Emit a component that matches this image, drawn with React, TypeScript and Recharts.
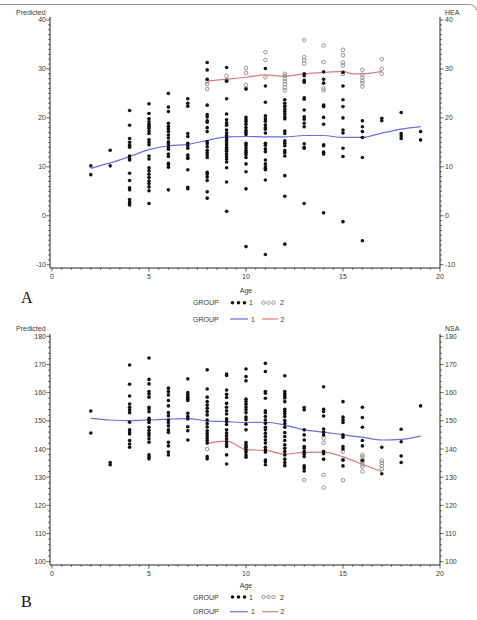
import React from 'react';
import { ComposedChart, Scatter, Line, XAxis, YAxis } from 'recharts';

const FONT = '"Liberation Sans", Arial, Helvetica, sans-serif';
const TEXT = '#3a3a3a';
const AXIS = '#222';
const BLUE = '#6e6ee0';
const RED = '#e07a7a';

// ---- tick labels ----
const ageTicks = [0, 5, 10, 15, 20];
const heaTicks = [-10, 0, 10, 20, 30, 40];
const nsaTicks = [100, 110, 120, 130, 140, 150, 160, 170, 180];

// ---- Panel A (HEA): observed points per age ----
const heaGroup1: [number, number[]][] = [
  [2, [10.2, 8.4]],
  [3, [13.4, 10.2]],
  [4, [21.5, 18.5, 15.8, 15.0, 14.4, 14.0, 12.2, 11.7, 11.4, 8.7, 7.2, 5.7, 5.3, 3.3, 2.8, 2.5, 2.2]],
  [5, [22.9, 20.9, 19.8, 19.2, 18.7, 18.3, 17.9, 17.3, 16.8, 15.5, 15.0, 14.5, 12.2, 11.6, 9.8, 9.2, 8.5, 7.8, 7.1, 6.6, 5.9, 5.1, 2.5]],
  [6, [25.0, 22.2, 21.3, 18.9, 18.3, 17.8, 17.2, 16.5, 15.9, 15.1, 14.7, 14.1, 13.6, 12.6, 12.1, 10.7, 10.4, 9.9, 5.3]],
  [7, [23.9, 23.0, 22.4, 16.8, 16.2, 14.8, 14.3, 13.8, 12.4, 11.9, 11.7, 9.4, 5.8, 5.5]],
  [8, [31.3, 29.8, 27.9, 22.6, 20.7, 20.2, 19.4, 19.1, 18.0, 17.2, 15.1, 14.7, 14.1, 13.4, 12.9, 12.4, 11.9, 8.9, 8.5, 7.9, 7.2, 4.9, 3.6]],
  [9, [30.3, 27.5, 23.9, 20.8, 19.6, 19.0, 18.5, 17.5, 16.9, 16.4, 15.9, 15.4, 14.9, 14.5, 14.0, 13.6, 13.2, 12.6, 12.1, 11.6, 11.0, 9.8, 6.9, 0.9]],
  [10, [25.9, 20.1, 19.6, 19.2, 18.7, 18.0, 17.4, 17.0, 16.6, 14.8, 14.4, 13.9, 13.4, 13.0, 12.5, 11.9, 10.6, 9.0, 5.5, -6.3]],
  [11, [30.1, 26.5, 23.2, 20.4, 19.8, 19.3, 18.6, 18.0, 17.7, 16.9, 14.8, 14.4, 13.7, 13.1, 11.4, 10.6, 10.0, 9.7, 9.4, 7.3, -7.9]],
  [12, [23.7, 23.0, 22.4, 21.8, 21.3, 20.8, 20.2, 19.8, 17.3, 16.8, 15.3, 14.8, 14.3, 13.3, 12.9, 12.2, 8.2, 4.0, -5.8]],
  [13, [29.0, 28.6, 27.7, 27.3, 24.1, 23.8, 21.6, 20.2, 19.7, 18.9, 18.2, 14.7, 14.0, 13.8, 2.5]],
  [14, [29.4, 27.9, 27.1, 22.6, 22.3, 20.1, 18.7, 14.5, 14.3, 13.0, 12.6, 0.6]],
  [15, [29.3, 26.5, 23.7, 22.3, 20.0, 17.5, 16.9, 13.8, 12.1, -1.2]],
  [16, [19.4, 18.2, 17.2, 16.0, 11.9, -5.1]],
  [17, [19.9, 19.4]],
  [18, [21.1, 16.8, 16.3, 15.8]],
  [19, [17.2, 15.5]],
];
const heaGroup2: [number, number[]][] = [
  [8, [27.4, 26.9, 25.9]],
  [9, [28.6, 27.7]],
  [10, [30.2, 29.2, 26.7, 26.0]],
  [11, [33.4, 31.8, 28.3]],
  [12, [29.0, 28.6, 28.0, 27.5, 26.9, 26.2, 25.6]],
  [13, [35.9, 32.4, 31.8, 31.1]],
  [14, [34.8, 31.4, 26.0, 25.6]],
  [15, [33.9, 32.8, 31.3, 30.7, 29.0]],
  [16, [29.8, 28.8, 28.2, 27.6, 27.1, 26.4]],
  [17, [32.0, 30.0, 29.0]],
];
// smoothed predicted curves, panel A
const heaFitAges1 = [2, 3, 4, 5, 6, 7, 8, 9, 10, 11, 12, 13, 14, 15, 16, 17, 18, 19];
const heaFit1 = [9.7, 10.8, 12.1, 13.5, 14.3, 14.6, 15.4, 16.1, 16.2, 16.1, 16.1, 16.4, 16.4, 16.0, 16.0, 16.9, 17.7, 18.2];
const heaFitAges2 = [8, 9, 10, 11, 12, 13, 14, 15, 15.5, 16, 17];
const heaFit2 = [27.5, 27.9, 28.3, 28.8, 28.5, 29.0, 29.3, 29.5, 29.0, 29.0, 29.5];

// ---- Panel B (NSA): observed points per age ----
const nsaGroup1: [number, number[]][] = [
  [2, [153.5, 145.7]],
  [3, [135.2, 134.4]],
  [4, [169.8, 163.0, 158.8, 156.0, 154.8, 153.9, 152.9, 149.5, 146.8, 146.0, 145.3, 143.0, 141.8, 140.6]],
  [5, [172.3, 164.7, 163.1, 160.4, 159.5, 158.4, 154.8, 154.2, 153.2, 150.9, 150.2, 149.4, 147.7, 146.6, 145.6, 144.8, 143.6, 142.4, 137.9, 137.2, 136.5]],
  [6, [161.6, 160.4, 159.2, 157.2, 155.3, 152.9, 151.8, 150.3, 149.4, 148.2, 146.8, 145.9, 142.4, 141.1, 138.9, 137.9]],
  [7, [164.9, 160.0, 159.2, 158.4, 157.7, 157.2, 152.7, 151.5, 150.7, 147.9, 146.5, 143.2]],
  [8, [168.1, 161.3, 158.4, 156.8, 155.6, 154.5, 153.3, 152.1, 150.3, 149.0, 147.8, 146.5, 145.6, 144.7, 143.8, 143.0, 142.1, 137.3, 136.5]],
  [9, [166.6, 166.1, 160.9, 159.4, 158.3, 156.2, 154.8, 153.6, 152.4, 150.7, 149.8, 148.7, 146.8, 145.7, 144.7, 143.6, 142.6, 141.6, 140.9, 137.9, 134.7]],
  [10, [168.4, 165.7, 164.2, 157.7, 156.8, 155.9, 154.9, 154.0, 152.9, 151.3, 150.4, 148.8, 146.8, 142.3, 141.5, 140.6, 139.8, 138.9, 137.9, 137.1]],
  [11, [170.4, 167.5, 160.4, 159.8, 158.0, 153.6, 152.9, 151.5, 150.3, 149.1, 147.7, 146.8, 145.6, 144.4, 143.2, 142.1, 140.6, 139.7, 138.9, 136.1, 135.5, 134.4]],
  [12, [166.0, 160.4, 159.6, 158.9, 158.1, 156.8, 154.1, 153.3, 152.5, 151.5, 150.1, 149.0, 147.7, 145.8, 144.4, 143.0, 141.5, 140.3, 139.1, 137.9, 136.4, 135.2, 134.1]],
  [13, [154.7, 153.9, 146.8, 145.0, 143.2, 140.9, 140.3, 139.1, 138.3, 137.3, 134.0, 133.2, 132.2]],
  [14, [162.1, 154.1, 153.3, 151.7, 147.1, 146.0, 145.0, 139.1, 138.3, 136.4]],
  [15, [156.8, 151.3, 150.3, 149.4, 145.0, 144.2, 140.9, 140.0, 136.1, 134.0]],
  [16, [154.8, 151.2, 147.7, 143.0, 141.1, 135.9]],
  [17, [140.6, 131.2]],
  [18, [147.0, 142.6, 137.5, 135.2]],
  [19, [155.3]],
];
const nsaGroup2: [number, number[]][] = [
  [8, [140.0]],
  [10, [141.0, 139.5]],
  [13, [138.5, 129.0]],
  [14, [143.8, 142.2, 130.8, 126.3]],
  [15, [139.1, 136.1, 128.9]],
  [16, [137.9, 137.2, 136.2, 135.5, 134.5, 133.7, 132.0]],
  [17, [135.9, 135.0, 134.0, 132.9]],
];
const nsaFitAges1 = [2, 3, 4, 5, 6, 7, 8, 9, 10, 11, 12, 13, 14, 15, 16, 17, 18, 19];
const nsaFit1 = [150.9, 150.3, 150.1, 150.3, 150.6, 150.8, 150.0, 149.7, 149.4, 149.5, 148.5, 146.8, 146.0, 145.0, 144.2, 143.2, 143.4, 144.6];
const nsaFitAges2 = [8, 9, 10, 11, 12, 13, 14, 15, 16, 17];
const nsaFit2 = [142.0, 142.8, 139.8, 139.5, 138.2, 138.8, 138.9, 137.2, 134.6, 132.0];

// ---- helpers ----
const toPoints = (rows: [number, number[]][]) =>
  rows.flatMap(([x, ys]) => ys.map((y) => ({ x, y })));
const toCurve = (xs: number[], ys: number[]) => xs.map((x, i) => ({ x, y: ys[i] }));
const steps = (from: number, to: number, step: number) => {
  const out: number[] = [];
  for (let v = from; v <= to + 1e-9; v += step) out.push(Math.round(v * 100) / 100);
  return out;
};
const isMajor = (v: number, majors: number[]) => majors.some((m) => Math.abs(m - v) < 1e-6);

const FilledDot = (p: any) => <circle cx={p.cx} cy={p.cy} r={1.8} fill="#111" />;
const OpenDot = (p: any) => (
  <circle cx={p.cx} cy={p.cy} r={1.8} fill="#fff" fillOpacity={0} stroke="#8a8a8a" strokeWidth={0.9} />
);

const makeLeftTick = (majors: number[]) => (props: any) => {
  const { x, y, payload } = props;
  const v = payload.value;
  const mj = isMajor(v, majors);
  return (
    <g>
      <line x1={x} x2={x - (mj ? 3.5 : 1.8)} y1={y} y2={y} stroke={AXIS} strokeWidth={0.7} />
      {mj && (
        <text x={x - 4} y={y} dy={2.5} textAnchor="end" fontSize={7} fill={TEXT} fontFamily={FONT}>
          {v}
        </text>
      )}
    </g>
  );
};
const makeRightTick = (majors: number[]) => (props: any) => {
  const { x, y, payload } = props;
  const v = payload.value;
  const mj = isMajor(v, majors);
  return (
    <g>
      <line x1={x} x2={x + (mj ? 3.5 : 1.8)} y1={y} y2={y} stroke={AXIS} strokeWidth={0.7} />
      {mj && (
        <text x={x + 5} y={y} dy={2.5} textAnchor="start" fontSize={7} fill={TEXT} fontFamily={FONT}>
          {v}
        </text>
      )}
    </g>
  );
};
const makeBottomTick = (majors: number[]) => (props: any) => {
  const { x, y, payload } = props;
  const v = payload.value;
  const mj = isMajor(v, majors);
  return (
    <g>
      <line x1={x} x2={x} y1={y} y2={y + (mj ? 3.5 : 1.8)} stroke={AXIS} strokeWidth={0.7} />
      {mj && (
        <text x={x} y={y + 11} textAnchor="middle" fontSize={7} fill={TEXT} fontFamily={FONT}>
          {v}
        </text>
      )}
    </g>
  );
};

type PanelProps = {
  top: number;
  height: number;
  yDomain: [number, number];
  yMajors: number[];
  yMinorStep: number;
  g1: { x: number; y: number }[];
  g2: { x: number; y: number }[];
  fit1: { x: number; y: number }[];
  fit2: { x: number; y: number }[];
};

const X_DOMAIN: [number, number] = [-0.103, 20];

function Panel({ top, height, yDomain, yMajors, yMinorStep, g1, g2, fit1, fit2 }: PanelProps) {
  const yTicks = steps(yMajors[0], yMajors[yMajors.length - 1], yMinorStep);
  const xTicks = steps(0, 20, 0.5);
  return (
    <div style={{ position: 'absolute', left: 0, top }}>
      <ComposedChart width={477} height={height} margin={{ top: 17, right: 0, bottom: 0, left: 0 }}>
        <XAxis
          xAxisId="b"
          dataKey="x"
          type="number"
          domain={X_DOMAIN}
          allowDataOverflow
          ticks={xTicks}
          interval={0}
          tickSize={0}
          tickMargin={0}
          tickLine={false}
          tick={makeBottomTick(ageTicks)}
          axisLine={{ stroke: AXIS, strokeWidth: 1 }}
          height={22}
        />
        <XAxis
          xAxisId="t"
          orientation="top"
          type="number"
          domain={X_DOMAIN}
          allowDataOverflow
          tick={false}
          tickLine={false}
          axisLine={{ stroke: AXIS, strokeWidth: 1 }}
          height={0}
        />
        <YAxis
          yAxisId="l"
          dataKey="y"
          type="number"
          domain={yDomain}
          allowDataOverflow
          ticks={yTicks}
          interval={0}
          tickSize={0}
          tickMargin={0}
          tickLine={false}
          tick={makeLeftTick(yMajors)}
          axisLine={{ stroke: AXIS, strokeWidth: 1 }}
          width={50}
        />
        <YAxis
          yAxisId="r"
          orientation="right"
          type="number"
          domain={yDomain}
          allowDataOverflow
          ticks={yTicks}
          interval={0}
          tickSize={0}
          tickMargin={0}
          tickLine={false}
          tick={makeRightTick(yMajors)}
          axisLine={{ stroke: AXIS, strokeWidth: 1 }}
          width={37}
        />
        <Scatter xAxisId="b" yAxisId="l" data={g2} shape={OpenDot} isAnimationActive={false} />
        <Scatter xAxisId="b" yAxisId="l" data={g1} shape={FilledDot} isAnimationActive={false} />
        <Line
          xAxisId="b"
          yAxisId="l"
          data={fit1}
          dataKey="y"
          type="monotone"
          stroke={BLUE}
          strokeWidth={1.2}
          dot={false}
          activeDot={false}
          isAnimationActive={false}
        />
        <Line
          xAxisId="b"
          yAxisId="l"
          data={fit2}
          dataKey="y"
          type="monotone"
          stroke={RED}
          strokeWidth={1.2}
          dot={false}
          activeDot={false}
          isAnimationActive={false}
        />
      </ComposedChart>
    </div>
  );
}

function Legend({ y1, y2 }: { y1: number; y2: number }) {
  const t = { fontSize: 7, fill: TEXT, fontFamily: FONT } as const;
  return (
    <g>
      <text x={193} y={y1 + 2.5} {...t}>GROUP</text>
      {[232.5, 238.5, 244.5].map((cx) => (
        <circle key={cx} cx={cx} cy={y1} r={1.8} fill="#111" />
      ))}
      <text x={249} y={y1 + 2.5} {...t}>1</text>
      {[263.5, 268.5, 273.5].map((cx) => (
        <circle key={cx} cx={cx} cy={y1} r={1.7} fill="none" stroke="#8a8a8a" strokeWidth={0.9} />
      ))}
      <text x={280} y={y1 + 2.5} {...t}>2</text>
      <text x={193} y={y2 + 2.5} {...t}>GROUP</text>
      <line x1={230} x2={248} y1={y2} y2={y2} stroke={BLUE} strokeWidth={1.2} />
      <text x={251} y={y2 + 2.5} {...t}>1</text>
      <line x1={262} x2={278} y1={y2} y2={y2} stroke={RED} strokeWidth={1.2} />
      <text x={280.5} y={y2 + 2.5} {...t}>2</text>
    </g>
  );
}

export default function App() {
  const t = { fontSize: 7, fill: TEXT, fontFamily: FONT } as const;
  const big = { fontSize: 16, fill: '#111', fontFamily: '"Liberation Serif", "DejaVu Serif", serif' } as const;
  return (
    <div style={{ position: 'absolute', left: 0, top: 0, width: 477, height: 620, background: '#fff', overflow: 'hidden' }}>
      <Panel
        top={0}
        height={290}
        yDomain={[-10.67, 40.61]}
        yMajors={heaTicks}
        yMinorStep={1}
        g1={toPoints(heaGroup1)}
        g2={toPoints(heaGroup2)}
        fit1={toCurve(heaFitAges1, heaFit1)}
        fit2={toCurve(heaFitAges2, heaFit2)}
      />
      <Panel
        top={317}
        height={270}
        yDomain={[98.83, 180.82]}
        yMajors={nsaTicks}
        yMinorStep={2}
        g1={toPoints(nsaGroup1)}
        g2={toPoints(nsaGroup2)}
        fit1={toCurve(nsaFitAges1, nsaFit1)}
        fit2={toCurve(nsaFitAges2, nsaFit2)}
      />
      <svg width={477} height={620} style={{ position: 'absolute', left: 0, top: 0, pointerEvents: 'none' }}>
        <path d="M0,4.5 H469 Q475,4.5 476.5,10" fill="none" stroke="#9a9a9a" strokeWidth={1.2} />
        {/* Panel A titles */}
        <text x={16} y={15} {...t}>Predicted</text>
        <text x={445} y={15} {...t}>HEA</text>
        <text x={246} y={292.5} textAnchor="middle" {...t}>Age</text>
        <text x={21} y={303} {...big}>A</text>
        <Legend y1={302.7} y2={319} />
        {/* Panel B titles */}
        <text x={16} y={331} {...t}>Predicted</text>
        <text x={445} y={331} {...t}>NSA</text>
        <text x={246} y={587.5} textAnchor="middle" {...t}>Age</text>
        <text x={21} y={607} {...big}>B</text>
        <Legend y1={597} y2={611.7} />
      </svg>
    </div>
  );
}
